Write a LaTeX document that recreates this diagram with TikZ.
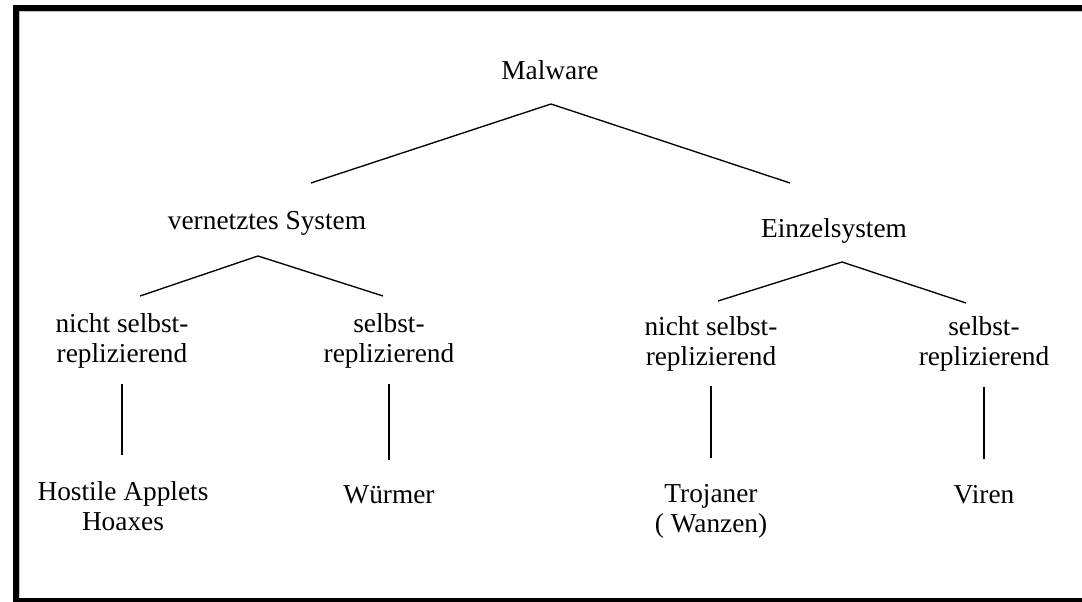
\documentclass[tikz,border=0pt]{standalone}
\usepackage{fontspec}
\setmainfont{Liberation Serif}
\begin{document}
\begin{tikzpicture}[x=0.75pt,y=-0.75pt,
  txt/.style={font=\fontsize{20.5}{22.5}\selectfont, inner sep=0pt, align=center, anchor=base},
  branch/.style={line width=1pt},
  stem/.style={line width=1pt, shorten <=11.5pt, shorten >=19pt}]
\useasboundingbox (0,0) rectangle (1082,602);
% frame
\fill (13,5) rectangle (1082,11);
\fill (13,5) rectangle (19,602);
\fill (13,598) rectangle (1082,602);
\draw[gray!50, line width=1pt] (19.7,597) -- (19.7,11.7) -- (1082,11.7);

% labels (base = last line)
\node[txt](malware) at (550,80){Malware};
\node[txt](vernetzt) at (267,230){vernetztes System};
\node[txt](einzel) at (834,238){Einzelsystem};
\node[txt](vnicht) at (122,363){nicht selbst-\\replizierend};
\node[txt](vselbst) at (389,363){selbst-\\replizierend};
\node[txt](enicht) at (711,365){nicht selbst-\\replizierend};
\node[txt](eselbst) at (984,366){selbst-\\replizierend};
\node[txt](hostile) at (123,530){Hostile Applets\\Hoaxes};
\node[txt](wuermer) at (389,503){Würmer};
\node[txt](trojaner) at (711,532){Trojaner\\( Wanzen)};
\node[txt](viren) at (984,503){Viren};

% forks
\coordinate (mw-top) at (551,104);
\coordinate (mw-left) at (311,183);
\coordinate (mw-right) at (790,183);
\coordinate (vn-top) at (258,256);
\coordinate (vn-left) at (140,296);
\coordinate (vn-right) at (383,296);
\coordinate (ez-top) at (842,262);
\coordinate (ez-left) at (718,301);
\coordinate (ez-right) at (966,303);
\draw[branch] (mw-left) -- (mw-top) -- (mw-right);
\draw[branch] (vn-left) -- (vn-top) -- (vn-right);
\draw[branch] (ez-left) -- (ez-top) -- (ez-right);

% stems
\draw[stem] (vnicht.south) -- (vnicht.south |- hostile.north);
\draw[stem] (vselbst.south) -- (vselbst.south |- wuermer.north);
\draw[stem] (enicht.south) -- (enicht.south |- trojaner.north);
\draw[stem] (eselbst.south) -- (eselbst.south |- viren.north);
\end{tikzpicture}
\end{document}
